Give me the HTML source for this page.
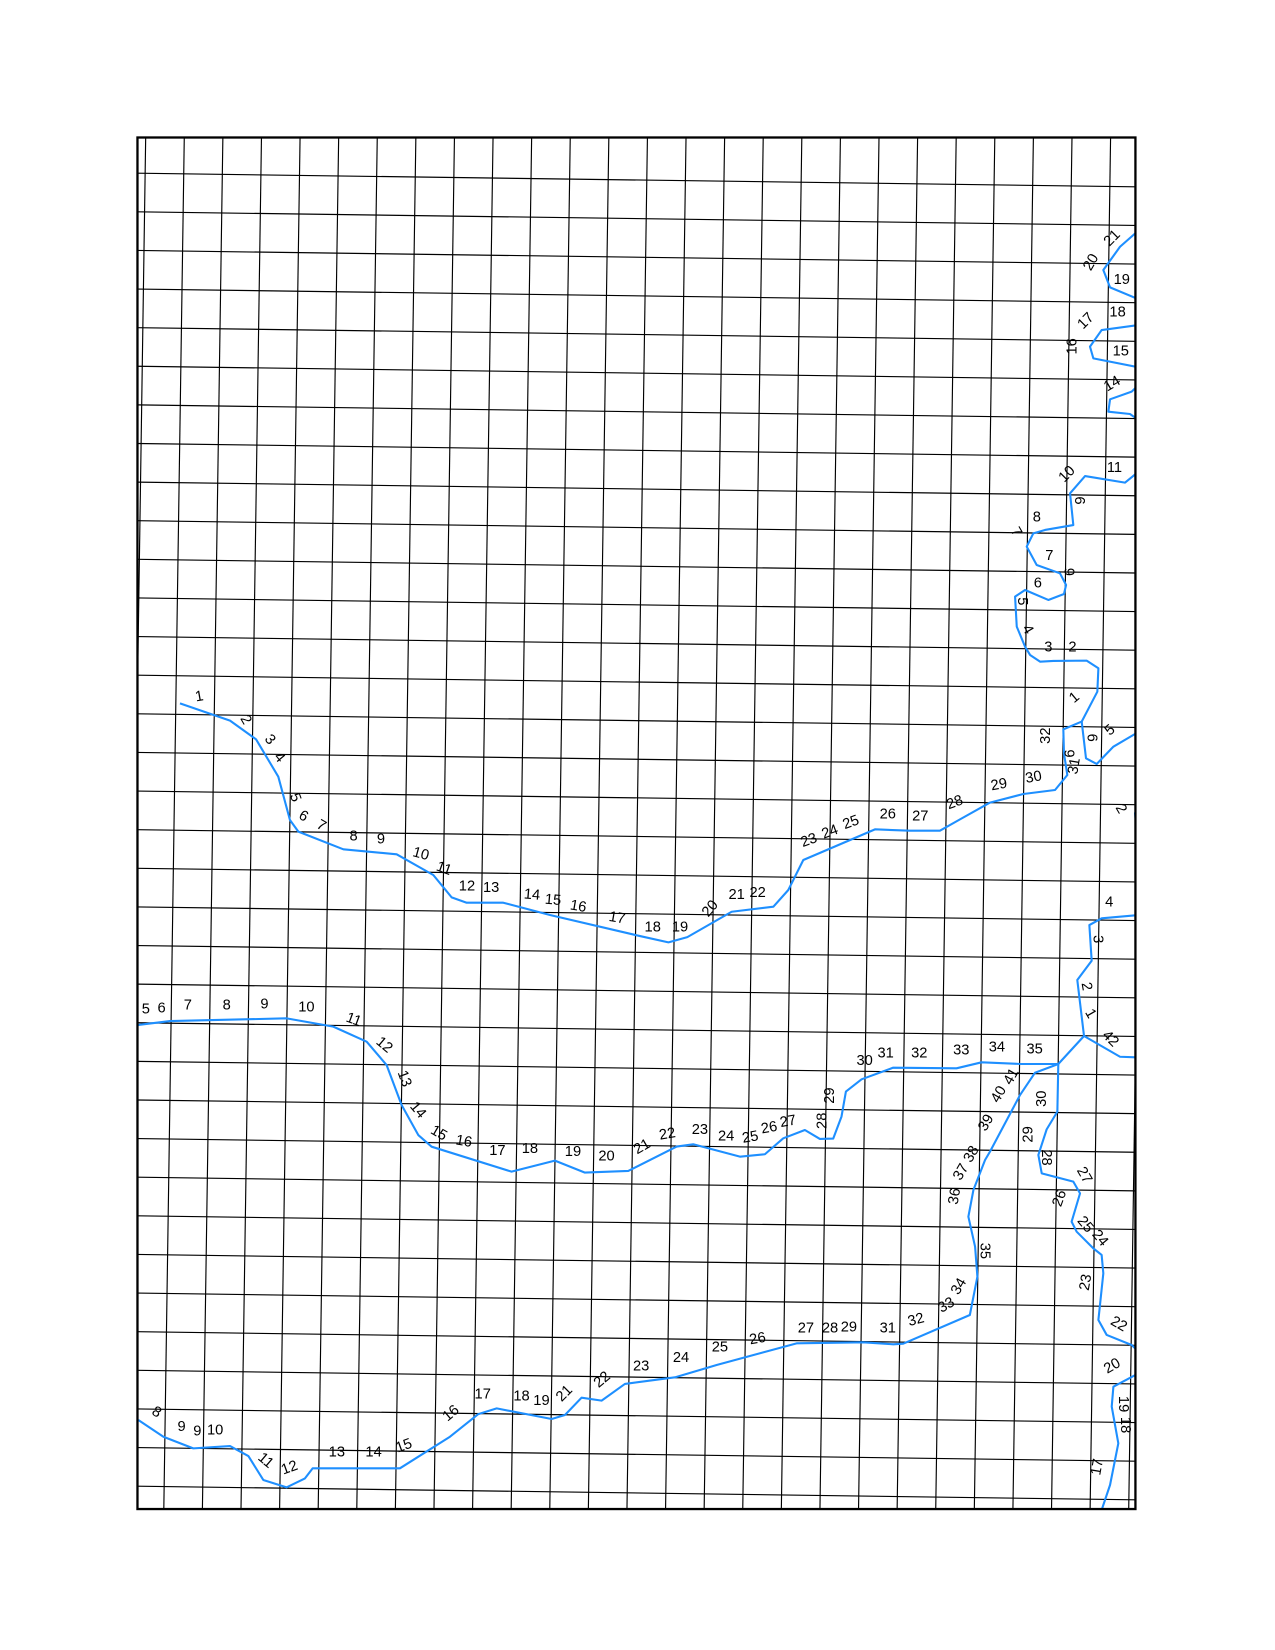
<!DOCTYPE html>
<html>
<head>
<meta charset="utf-8">
<style>
  html,body{margin:0;padding:0;background:#fff;}
  svg{display:block;}
  text{font-family:"Liberation Sans",sans-serif;font-size:14px;fill:#000;}
</style>
</head>
<body>
<svg id="map" width="1275" height="1650" viewBox="0 0 1215 1572.3" xmlns="http://www.w3.org/2000/svg">
  <defs>
    <clipPath id="frameClip"><rect x="131" y="131" width="951" height="1307"/></clipPath>
  </defs>
  <g id="grid" clip-path="url(#frameClip)"></g>
  <g id="rivers" clip-path="url(#frameClip)"></g>
  <g id="labels"></g>
  <rect x="131" y="131" width="951" height="1307" fill="none" stroke="#000" stroke-width="2.2"/>
</svg>
<script>
// river polylines (traced coordinates)
const riverTopLeft = [[171.5,670.2],[219.2,686.7],[244,704.5],[265.2,740.1],[276.3,781.4],[284.3,792.5],[327.2,809.3],[378,814.1],[412.9,833.8],[430.4,855.1],[444.7,860.2],[479.6,860.2],[524.1,871.9],[609.9,892],[637,898],[655,893],[697.2,868.8],[737,864],[751.2,848.1],[765.5,819.5],[833.8,790.3],[867.1,791.6],[895.7,791.6],[914.8,780.8],[943.4,764.8],[975.2,756.6],[1005.4,752.8],[1017.1,738.5],[1013.9,717.8],[1013.3,695],[1030.8,687.6],[1045.7,659.1],[1046.7,636.8],[1035.5,629.5],[1003.8,629.8],[991.1,630.5],[981.6,624.1],[976.8,616.2],[968.9,597.1],[967.3,568.5],[976.8,562.2],[999,571.7],[1013.9,566],[1015.9,557.4],[1010.1,546.3],[987.9,538.4],[978.4,520.9],[984.7,508.2],[995.8,505],[1022.8,500.3],[1019.7,470.1],[1034,453.6],[1072,459.9],[1085,449.4]];
const riverBranch56 = [[1030.8,687.6],[1034.9,722.6],[1045.1,728],[1061,711.5],[1085.4,697.2]];
const riverEdge2 = [[1085,765.5],[1081.6,775],[1083.2,790.9],[1085,792.5]];
const riverTop19 = [[1085.4,219.2],[1067.3,235.1],[1051.4,257.3],[1057.8,273.8],[1085.4,285.3]];
const riverTop15 = [[1085,309.7],[1049.8,314.5],[1038.7,330.3],[1041.9,341.5],[1085,350]];
const riverTop14 = [[1085,366.9],[1078.4,373.2],[1057.8,380.5],[1056.2,392.3],[1076.8,394.5],[1085,400.2]];
const riverMiddle = [[131.8,976.7],[162,973],[273.2,970.4],[317.6,978.3],[349.4,992.6],[368.4,1014.9],[382.7,1053],[398.6,1081.6],[411.3,1092.7],[487.5,1116.5],[528.8,1106],[557.4,1117.4],[598.7,1115.8],[644.8,1092.6],[660.6,1090.4],[705.1,1102.2],[728.9,1099.9],[746.4,1084.7],[767,1076.8],[781.3,1085.3],[794,1085],[801.9,1064],[806.1,1040.2],[821,1028.5],[851.2,1017.4],[911.5,1018],[935.4,1012.3],[973.6,1013.9],[1008.5,1013.9],[1033,987.2],[1067.3,1007],[1085,1007.6]];
const riverNorth = [[1033,987.2],[1026.6,933.9],[1040.3,915.5],[1038.1,881.5],[1049.8,875.1],[1085,871.9]];
const riverBottom = [[131.8,1353.2],[155.7,1369.1],[184.2,1380.2],[219.2,1378],[236.7,1387.5],[250.9,1410.3],[273.2,1417.3],[290.6,1408.8],[297.9,1399.2],[381.1,1399.2],[428.8,1369.1],[455.8,1347.5],[473.3,1342.1],[525.7,1352.2],[538.4,1348.4],[554.2,1331.9],[573.3,1334.7],[595.5,1318.8],[643.2,1312.5],[682.9,1300.7],[759.1,1280.1],[822.6,1279.1],[851.2,1281],[860.7,1280.4],[924.2,1253.1],[931.4,1216.6],[929.2,1188],[922.8,1159.4],[927.6,1134],[938.7,1105.4],[943.4,1097.4],[972,1043.5],[986.3,1022.2],[1008.5,1013.9]];
const riverSouth = [[1008.5,1013.9],[1007.6,1059.3],[997.4,1076.2],[989.5,1100.6],[992.7,1118.1],[1022.8,1126],[1029.2,1137.2],[1021.2,1164.2],[1026,1173.7],[1041.9,1189.6],[1049.8,1195.9],[1051.4,1213.4],[1046.7,1257.9],[1054.6,1272.1],[1078.4,1281.7],[1085,1288]];
const riverBottomRight = [[1085,1308.7],[1061,1321.4],[1059.4,1340.4],[1065.7,1375.4],[1057.8,1415.1],[1049.8,1438.9]];

// labels: text, x, y, rotation
const labelText = ["1","2","3","4","5","6","7","8","9","10","11","12","13","14","15","16","17","18","19","20","21","22","23","24","25","26","27","28","29","30","31","32","1","5","6","6",
"21","20","19","18","17","16","15","14","11","10","9","8","7","7","6","6","5","4","3","2","2",
"4","3","2","1","42","35","34","33","32","31","30","29","28","27","26","25","24","23","22","21","20","19","18","17","16","15","14","13","12","11","10","9","8","7","6","5",
"41","40","39","38","37","36","35","34","33","32","31","30","29","28","27","26","25","24","23","22","20","19","18","17",
"8","9","9","10","11","12","13","14","15","16","17","18","19","21","22","23","24","25","26","27","28","29"];
const labelX = [190,234,257,266,281,289,306,337,363,401,423,445,468,507,527,551,588,622,648,677,702,722,771,791,811,846,877,910,952,985,1024,997,1024,1058,1040,1020,
1060,1040,1069,1065,1035,1022,1068,1060,1062,1017,1030,988,968,1000,1020,989,974,979,999,1022,1068,
1057,1046,1035,1039,1058,986,950,916,876,844,824,791,784,751,733,715,692,667,636,612,578,546,505,474,442,418,398,385,366,337,292,252,216,179,154,139,
964,952,940,926,916,910,938,914,902,873,846,993,980,997,1033,1010,1034,1048,1035,1066,1060,1070,1072,1046,
149,173,188,205,253,276,321,356,385,430,460,497,516,538,574,611,649,686,722,768,791,809];
const labelY = [664,686,705,722,760,778,787,797,800,814,828,845,846,853,858,864,875,884,884,866,853,851,801,793,784,776,778,765,748,741,730,701,665,696,703,718,
227,250,267,298,306,330,335,366,446,452,477,493,507,530,545,556,573,600,617,617,771,
860,895,940,966,990,1000,998,1001,1004,1004,1011,1044,1068,1069,1075,1084,1083,1077,1081,1093,1102,1098,1095,1097,1088,1080,1058,1028,996,972,960,957,958,958,961,962,
1026,1043,1070,1100,1117,1140,1192,1226,1244,1258,1266,1047,1081,1103,1120,1142,1167,1180,1222,1262,1302,1338,1358,1398,
1346,1360,1364,1363,1392,1399,1384,1384,1378,1347,1329,1331,1335,1328,1315,1302,1294,1284,1276,1266,1266,1265];
const labelRot = [-10,60,50,50,70,30,30,0,0,15,20,0,0,5,5,10,10,0,0,-50,0,0,-20,-20,-20,0,0,-20,-10,-10,-80,-90,-40,-40,90,-90,
-45,-60,0,0,-45,-90,0,-30,0,-45,-90,0,60,0,-90,0,90,60,0,0,60,
0,90,80,60,45,0,0,0,0,0,0,-90,-90,-10,-10,-10,0,0,-10,-30,0,0,0,0,10,30,50,70,40,20,0,0,0,0,0,0,
-60,-60,-60,-60,-60,-80,90,-60,-30,-15,0,-90,-90,90,60,-70,50,50,-80,30,-30,90,90,-80,
30,0,0,0,40,-20,0,0,-20,-40,0,0,0,-45,-40,0,0,0,-10,0,0,0];

const NS = "http://www.w3.org/2000/svg";
const grid = document.getElementById("grid");
// vertical grid lines (slightly tilted)
for (let i = -1; i <= 26; i++) {
  const xt = 175.6 + 36.78 * i;
  const ln = document.createElementNS(NS, "line");
  ln.setAttribute("x1", xt); ln.setAttribute("y1", 131);
  ln.setAttribute("x2", xt - 19.5); ln.setAttribute("y2", 1438);
  ln.setAttribute("stroke", "#000"); ln.setAttribute("stroke-width", "1.1");
  
  
  grid.appendChild(ln);
}
// horizontal grid lines
for (let j = 0; j <= 35; j++) {
  const yl = 165 + 36.8 * j;
  const ln = document.createElementNS(NS, "line");
  ln.setAttribute("x1", 131); ln.setAttribute("y1", yl);
  ln.setAttribute("x2", 1082); ln.setAttribute("y2", yl + 13);
  ln.setAttribute("stroke", "#000"); ln.setAttribute("stroke-width", "1.1");
  
  
  grid.appendChild(ln);
}

const rivers = document.getElementById("rivers");
const riverList = [riverTopLeft, riverBranch56, riverEdge2, riverTop19, riverTop15, riverTop14, riverMiddle, riverNorth, riverBottom, riverSouth, riverBottomRight];
riverList.forEach(function (pts) {
  const pl = document.createElementNS(NS, "polyline");
  pl.setAttribute("points", pts.map(p => p[0] + "," + p[1]).join(" "));
  pl.setAttribute("fill", "none");
  pl.setAttribute("stroke", "#1e8fff");
  pl.setAttribute("stroke-width", "2");
  pl.setAttribute("stroke-linejoin", "round");
  
  
  rivers.appendChild(pl);
});

const labels = document.getElementById("labels");
for (let k = 0; k < labelText.length; k++) {
  const t = document.createElementNS(NS, "text");
  t.setAttribute("x", labelX[k]);
  t.setAttribute("y", labelY[k]);
  t.setAttribute("text-anchor", "middle");
  t.setAttribute("dominant-baseline", "central");
  t.setAttribute("transform", "rotate(" + labelRot[k] + " " + labelX[k] + " " + labelY[k] + ")");
  t.textContent = labelText[k];
  
  
  labels.appendChild(t);
}
</script>
</body>
</html>
